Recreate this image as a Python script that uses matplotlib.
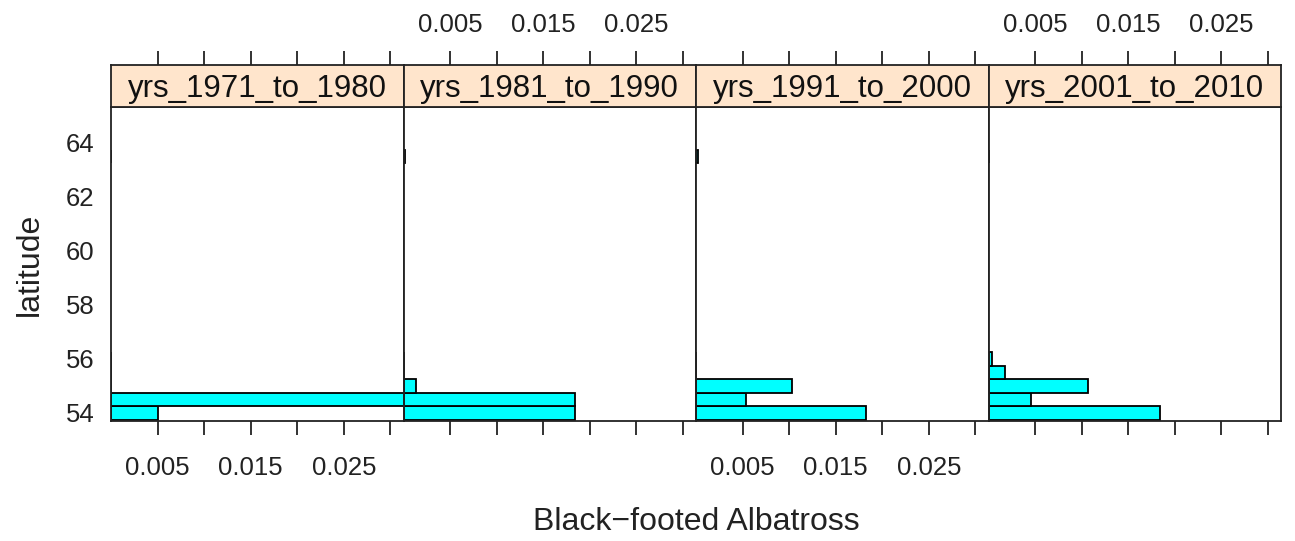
import matplotlib
matplotlib.use("Agg")
import matplotlib.pyplot as plt
import numpy as np

plt.rcParams['font.family'] = ['Liberation Sans', 'DejaVu Sans']

# ---- data ----
panels = ["yrs_1971_to_1980", "yrs_1981_to_1990", "yrs_1991_to_2000", "yrs_2001_to_2010"]
lat_bins = [54.0, 54.5, 55.0, 55.5, 56.0, 63.5]   # bin centres (0.5 deg wide)
bin_width = 0.5
dens_1971_1980 = [0.0050, 0.0400, 0.0, 0.0, 0.0, 0.0]
dens_1981_1990 = [0.0184, 0.0184, 0.0013, 0.0, 0.0, 0.0002]
dens_1991_2000 = [0.0183, 0.0054, 0.0103, 0.0, 0.0, 0.0002]
dens_2001_2010 = [0.0184, 0.0046, 0.0107, 0.0018, 0.0004, 0.0]
series = [dens_1971_1980, dens_1981_1990, dens_1991_2000, dens_2001_2010]
x_ticks = [0.005, 0.010, 0.015, 0.020, 0.025, 0.030]
x_ticklabels = ["0.005", "", "0.015", "", "0.025", ""]
y_ticks = [54, 56, 58, 60, 62, 64]
x_label = "Black\u2212footed Albatross"
y_label = "latitude"

W, H = 1295, 541
fig = plt.figure(figsize=(W / 100, H / 100), dpi=100)

left_px, right_px = 111, 1281
plot_top, plot_bot = 107, 421
strip_top = 65
pw = (right_px - left_px) / 4
xlim = (0, 0.0314)
ylim = (53.70, 65.33)
lc = "#222222"
tick_fs = 18.5

for i, (name, vals) in enumerate(zip(panels, series)):
    x0 = left_px + i * pw
    ax = fig.add_axes([x0 / W, 1 - plot_bot / H, pw / W, (plot_bot - plot_top) / H])
    ax.barh(lat_bins, vals, height=bin_width, left=0, color="#00FFFF",
            edgecolor="black", linewidth=1.3)
    ax.set_xlim(*xlim)
    ax.set_ylim(*ylim)
    for s in ax.spines.values():
        s.set_linewidth(1.3)
        s.set_color(lc)
    ax.set_xticks(x_ticks)
    ax.tick_params(axis='x', direction='out', length=10, width=1.3, color=lc,
                   labelsize=tick_fs, pad=15, labelcolor=lc)
    if i % 2 == 0:
        ax.set_xticklabels(x_ticklabels)
    else:
        ax.set_xticklabels([""] * len(x_ticks))
    if i == 0:
        ax.set_yticks(y_ticks)
        ax.tick_params(axis='y', length=0, labelsize=tick_fs, pad=12, labelcolor=lc)
    else:
        ax.set_yticks([])

    # strip
    sax = fig.add_axes([x0 / W, 1 - plot_top / H, pw / W, (plot_top - strip_top) / H])
    sax.set_facecolor("#FFE5CC")
    sax.set_xlim(*xlim)
    sax.set_yticks([])
    for s in sax.spines.values():
        s.set_linewidth(1.3)
        s.set_color(lc)
    sax.xaxis.tick_top()
    sax.set_xticks(x_ticks)
    sax.tick_params(axis='x', direction='out', length=10, width=1.3, color=lc,
                    labelsize=tick_fs, pad=10.5, labelcolor=lc)
    if i % 2 == 1:
        sax.set_xticklabels(x_ticklabels)
    else:
        sax.set_xticklabels([""] * len(x_ticks))
    sax.text(0.5, 0.42, name, transform=sax.transAxes, ha="center", va="center",
             fontsize=22.5, color="#111111")

fig.text((left_px + right_px) / 2 / W, 1 - 522 / H, x_label, ha="center", va="center",
         fontsize=23, color=lc)
fig.text(30 / W, 1 - 264 / H, y_label, ha="center", va="center", rotation=90,
         fontsize=23, color=lc)

fig.savefig("out.png", dpi=100, facecolor="white")
